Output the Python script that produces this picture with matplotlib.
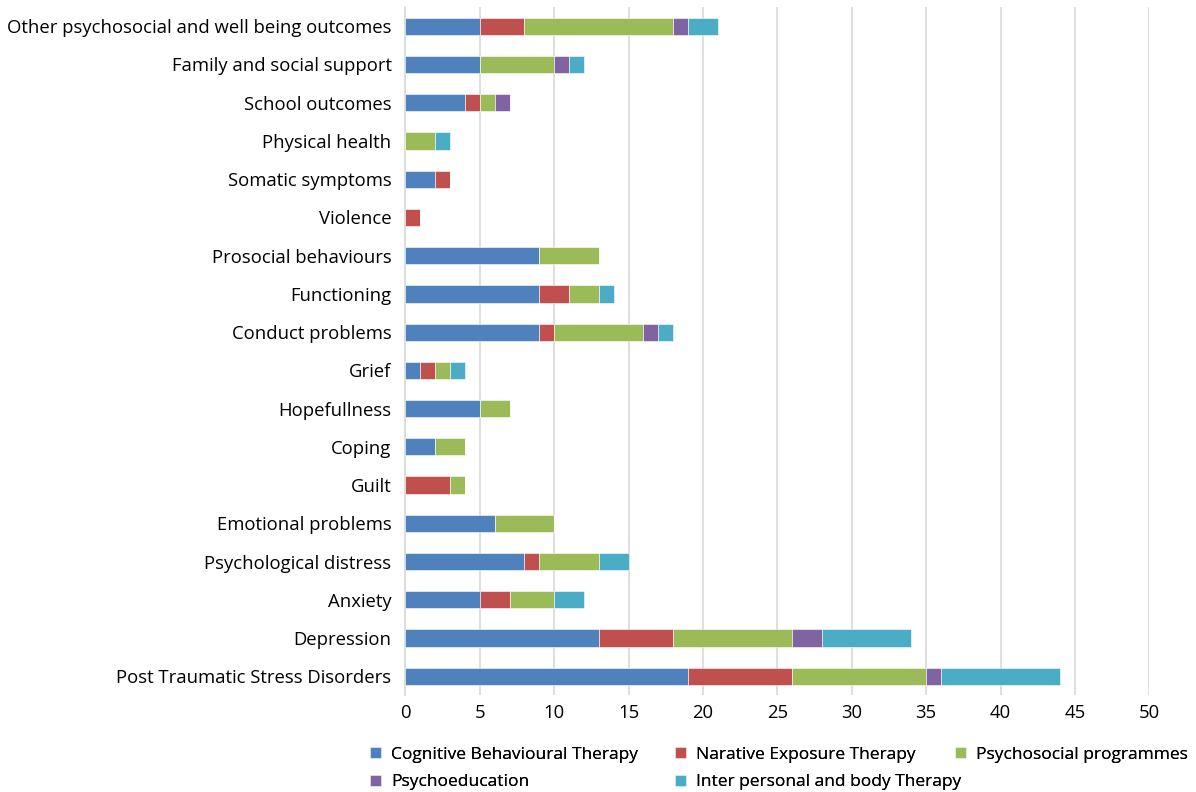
import numpy as np
import matplotlib.pyplot as plt

plt.rcParams['font.family'] = ['Open Sans', 'DejaVu Sans']

# categories listed bottom to top
outcomes = ["Post Traumatic Stress Disorders", "Depression", "Anxiety",
            "Psychological distress", "Emotional problems", "Guilt", "Coping",
            "Hopefullness", "Grief", "Conduct problems", "Functioning",
            "Prosocial behaviours", "Violence", "Somatic symptoms",
            "Physical health", "School outcomes", "Family and social support",
            "Other psychosocial and well being outcomes"]

cbt = [19, 13, 5, 8, 6, 0, 2, 5, 1, 9, 9, 9, 0, 2, 0, 4, 5, 5]
net = [7, 5, 2, 1, 0, 3, 0, 0, 1, 1, 2, 0, 1, 1, 0, 1, 0, 3]
psp = [9, 8, 3, 4, 4, 1, 2, 2, 1, 6, 2, 4, 0, 0, 2, 1, 5, 10]
pse = [1, 2, 0, 0, 0, 0, 0, 0, 0, 1, 0, 0, 0, 0, 0, 1, 1, 1]
ipt = [8, 6, 2, 2, 0, 0, 0, 0, 1, 1, 1, 0, 0, 0, 1, 0, 1, 2]

series = [("Cognitive Behavioural Therapy", cbt, "#4F81BD"),
          ("Narative Exposure Therapy", net, "#C0504D"),
          ("Psychosocial programmes", psp, "#9BBB59"),
          ("Psychoeducation", pse, "#8064A2"),
          ("Inter personal and body Therapy", ipt, "#4BACC6")]

fig = plt.figure(figsize=(11.96, 7.92), dpi=100)
ax = fig.add_axes([0.339, 0.122, 0.622, 0.869])

y = np.arange(len(outcomes))
left = np.zeros(len(outcomes))
bars = {}
for name, vals, col in series:
    vals = np.array(vals, dtype=float)
    bars[name] = ax.barh(y, vals, left=left, height=0.45, color=col,
                         edgecolor='white', linewidth=0.4, label=name, zorder=3)
    left += vals

ax.set_xlim(0, 50)
ax.set_ylim(-0.5, len(outcomes) - 0.5)
ax.set_xticks(range(0, 51, 5))
ax.set_yticks(y)
ax.set_yticklabels(outcomes)
ax.tick_params(axis='both', length=0, labelsize=13.3, colors='black')
ax.tick_params(axis='y', pad=10)
ax.tick_params(axis='x', pad=6)
ax.grid(axis='x', color='#D9D9D9', linewidth=1.2, zorder=0)
for s in ['top', 'right', 'bottom']:
    ax.spines[s].set_visible(False)
ax.spines['left'].set_color('#D9D9D9')
ax.spines['left'].set_linewidth(1.2)

# legend laid out as a grid like the original: one legend per column
columns = [(["Cognitive Behavioural Therapy", "Psychoeducation"], 0.3035),
           (["Narative Exposure Therapy", "Inter personal and body Therapy"], 0.5585),
           (["Psychosocial programmes"], 0.7926)]
for names, x0 in columns:
    leg = fig.legend([bars[n] for n in names], names, loc='upper left',
                     bbox_to_anchor=(x0, 0.066), frameon=False, fontsize=12.5,
                     handlelength=0.65, handleheight=0.65, handletextpad=0.55,
                     labelspacing=0.68, borderaxespad=0)
    fig.add_artist(leg)

fig.savefig('out.png', dpi=100)
